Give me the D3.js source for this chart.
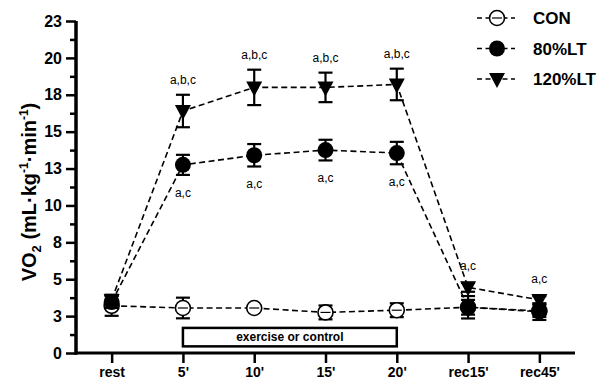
<!DOCTYPE html>
<html>
<head>
<meta charset="utf-8">
<script src="https://cdn.jsdelivr.net/npm/d3@7"></script>
<style>
  body { margin: 0; background: #fff; }
  svg { font-family: Arial, "Liberation Sans", sans-serif; }
</style>
</head>
<body>
<div id="chart"></div>
<script>
const width = 601;
const height = 382;

// categories along the x axis
const times = ["rest", "5'", "10'", "15'", "20'", "rec15'", "rec45'"];

// group means and error (SD)
const conMean = [3.2, 3.05, 3.05, 2.75, 2.9, 3.1, 2.85];
const conErr  = [0.68, 0.7, 0.15, 0.47, 0.47, 0.5, 0.4];
const lt80Mean = [3.45, 12.75, 13.4, 13.75, 13.55, 3.1, 2.8];
const lt80Err  = [0.4, 0.68, 0.76, 0.7, 0.76, 0.76, 0.56];
const lt120Mean = [3.6, 16.4, 18.0, 18.0, 18.2, 4.45, 3.6];
const lt120Err  = [0.35, 1.1, 1.2, 1.0, 1.07, 0.3, 0.25];

// significance labels
const sigAbove = ["", "a,b,c", "a,b,c", "a,b,c", "a,b,c", "a,c", "a,c"];
const sigBelow = ["", "a,c", "a,c", "a,c", "a,c", "", ""];

const yTicks = [0, 2.5, 5, 7.5, 10, 12.5, 15, 17.5, 20, 22.5];
const legendNames = ["CON", "80%LT", "120%LT"];

const svg = d3.select("#chart").append("svg")
    .attr("width", width)
    .attr("height", height);

const x = d3.scaleLinear().domain([-0.5, 6.5]).range([76, 575]);
const y = d3.scaleLinear().domain([0, 22.5]).range([353, 21]);

// y axis
const yAxis = svg.append("g").attr("transform", "translate(76,0)");
yAxis.call(d3.axisLeft(y).tickValues(yTicks).tickSize(10).tickPadding(4)
    .tickFormat(d => Math.round(d + 0.01)));
yAxis.append("g").call(d3.axisLeft(y)
    .tickValues(d3.range(1.25, 22.5, 2.5)).tickSize(6).tickFormat(""));
yAxis.selectAll("path.domain").attr("stroke-width", 3).attr("d", `M0,${y(22.5)}V${y(0) + 1.5}`);
yAxis.selectAll(".tick line").attr("stroke-width", 2.5);
yAxis.selectAll("text").attr("font-size", 16).attr("font-weight", "bold")
    .attr("fill", "#000").attr("font-family", "Arial, 'Liberation Sans', sans-serif");

// x axis
const xAxis = svg.append("g").attr("transform", "translate(0,353)");
xAxis.call(d3.axisBottom(x).tickValues(d3.range(0, 7)).tickSize(10).tickPadding(4)
    .tickFormat(i => times[i]));
xAxis.selectAll("path.domain").attr("stroke-width", 3).attr("d", `M${x(-0.5) - 1.5},0H${x(6.5)}`);
xAxis.selectAll(".tick line").attr("stroke-width", 2.5);
xAxis.selectAll("text").attr("font-size", 14).attr("font-weight", "bold")
    .attr("fill", "#000").attr("font-family", "Arial, 'Liberation Sans', sans-serif");

// y axis title
const title = svg.append("text")
    .attr("transform", "translate(36,192) rotate(-90)")
    .attr("text-anchor", "middle")
    .attr("font-size", 20)
    .attr("font-weight", "bold");
title.append("tspan").text("VO");
title.append("tspan").attr("font-size", 13).attr("dy", 5).text("2");
title.append("tspan").attr("dy", -5).text(" (mL·kg");
title.append("tspan").attr("font-size", 12).attr("dy", -8).text("-1");
title.append("tspan").attr("dy", 8).text("·min");
title.append("tspan").attr("font-size", 12).attr("dy", -8).text("-1");
title.append("tspan").attr("dy", 8).text(")");

// exercise period box
svg.append("rect")
    .attr("x", x(1)).attr("y", y(1.7))
    .attr("width", x(4) - x(1)).attr("height", y(0.45) - y(1.7))
    .attr("fill", "#fff").attr("stroke", "#000").attr("stroke-width", 2.5);
svg.append("text")
    .attr("x", (x(1) + x(4)) / 2).attr("y", (y(1.7) + y(0.45)) / 2 + 4)
    .attr("text-anchor", "middle").attr("font-size", 12).attr("font-weight", "bold")
    .text("exercise or control");

const series = [
    { name: "CON", mean: conMean, err: conErr, shape: "open" },
    { name: "80%LT", mean: lt80Mean, err: lt80Err, shape: "circle" },
    { name: "120%LT", mean: lt120Mean, err: lt120Err, shape: "triangle" }
];

function drawMarker(g, shape) {
    if (shape === "open") {
        g.append("circle").attr("r", 7.5).attr("fill", "#fff")
            .attr("stroke", "#000").attr("stroke-width", 1.6);
        g.append("line").attr("x1", -5).attr("x2", 5)
            .attr("stroke", "#000").attr("stroke-width", 1.2);
    } else if (shape === "circle") {
        g.append("circle").attr("r", 8).attr("fill", "#000");
    } else {
        g.append("path").attr("d", "M-8,-6L8,-6L0,9Z").attr("fill", "#000");
    }
}

const line = d3.line().x((d, i) => x(i)).y(d => y(d));

series.forEach(s => {
    const g = svg.append("g");
    g.append("path")
        .attr("d", line(s.mean))
        .attr("fill", "none").attr("stroke", "#000")
        .attr("stroke-width", 1.6).attr("stroke-dasharray", "6,3.5");

    // error bars
    s.mean.forEach((m, i) => {
        const eb = g.append("g").attr("stroke", "#000").attr("stroke-width", 2.2);
        eb.append("line").attr("x1", x(i)).attr("x2", x(i))
            .attr("y1", y(m - s.err[i])).attr("y2", y(m + s.err[i]));
        [m - s.err[i], m + s.err[i]].forEach(v => {
            eb.append("line").attr("x1", x(i) - 7).attr("x2", x(i) + 7)
                .attr("y1", y(v)).attr("y2", y(v));
        });
    });

    s.mean.forEach((m, i) => {
        drawMarker(g.append("g").attr("transform", `translate(${x(i)},${y(m)})`), s.shape);
    });
});

// significance annotations
const ann = svg.append("g").attr("font-size", 12).attr("text-anchor", "middle");
sigAbove.forEach((t, i) => {
    if (!t) return;
    const top = i >= 5 ? y(lt120Mean[i]) - 17 : y(lt120Mean[i] + lt120Err[i]) - 11;
    ann.append("text").attr("x", x(i)).attr("y", top).text(t);
});
sigBelow.forEach((t, i) => {
    if (!t) return;
    ann.append("text").attr("x", x(i))
        .attr("y", y(lt80Mean[i] - lt80Err[i]) + 22).text(t);
});

// legend
const legend = svg.append("g").attr("transform", "translate(477,18)");
legendNames.forEach((n, i) => {
    const row = legend.append("g").attr("transform", `translate(0,${i * 30.5})`);
    row.append("line").attr("x1", 0).attr("x2", 38)
        .attr("stroke", "#000").attr("stroke-width", 1.6).attr("stroke-dasharray", "5,3.5");
    drawMarker(row.append("g").attr("transform", "translate(20,0)"), series[i].shape);
    row.append("text").attr("x", 56).attr("y", 6)
        .attr("font-size", 17).attr("font-weight", "bold").text(n);
});
</script>
</body>
</html>
